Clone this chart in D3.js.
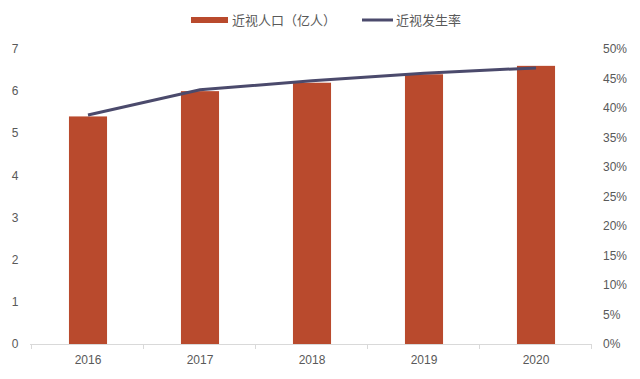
<!DOCTYPE html>
<html>
<head>
<meta charset="utf-8">
<script src="https://cdn.jsdelivr.net/npm/d3@7"></script>
<style>
  body { margin: 0; background: #fff; }
  text { font-family: "Liberation Sans", Arial, sans-serif; fill: #595959; }
  .legend text { font-family: "Noto Sans CJK SC", sans-serif; }
</style>
</head>
<body>
<svg id="chart" width="640" height="379"></svg>
<script>
var years = ['2016', '2017', '2018', '2019', '2020']
var population = [5.4, 6.0, 6.2, 6.4, 6.6]      // 近视人口（亿人）
var rate = [38.8, 43.1, 44.6, 45.9, 46.8]       // 近视发生率 %
var leftTicks = [0, 1, 2, 3, 4, 5, 6, 7]
var rightTicks = [0, 5, 10, 15, 20, 25, 30, 35, 40, 45, 50]

var barColor = '#b94a2d'
var lineColor = '#4b4a6c'

var svg = d3.select('#chart')

var x = d3.scaleBand().domain(years).range([32, 592]).paddingInner(0.66).paddingOuter(0.33)
var yL = d3.scaleLinear().domain([0, 7]).range([344, 49])
var yR = d3.scaleLinear().domain([0, 50]).range([344, 49])

// bars
svg.append('g').selectAll('rect')
  .data(years)
  .join('rect')
  .attr('x', d => x(d))
  .attr('width', x.bandwidth())
  .attr('y', (d, i) => yL(population[i]))
  .attr('height', (d, i) => yL(0) - yL(population[i]))
  .attr('fill', barColor)

// x axis
svg.append('line')
  .attr('x1', 30).attr('x2', 592)
  .attr('y1', yL(0) + 0.5).attr('y2', yL(0) + 0.5)
  .attr('stroke', '#d9d9d9')

var step = x.step()
var bounds = d3.range(years.length + 1).map(i => 32 + i * step)
svg.append('g').selectAll('line')
  .data(bounds)
  .join('line')
  .attr('x1', d => Math.round(d) - 0.5).attr('x2', d => Math.round(d) - 0.5)
  .attr('y1', yL(0)).attr('y2', yL(0) + 5)
  .attr('stroke', '#d9d9d9')

svg.append('g').selectAll('text')
  .data(years)
  .join('text')
  .attr('x', d => x(d) + x.bandwidth() / 2)
  .attr('y', 364)
  .attr('text-anchor', 'middle')
  .style('font-size', '12px')
  .text(d => d)

// left axis labels
svg.append('g').selectAll('text')
  .data(leftTicks)
  .join('text')
  .attr('x', 15)
  .attr('y', d => yL(d))
  .attr('dy', '0.35em')
  .attr('text-anchor', 'middle')
  .style('font-size', '12px')
  .text(d => d)

// right axis labels
svg.append('g').selectAll('text')
  .data(rightTicks)
  .join('text')
  .attr('x', 603)
  .attr('y', d => yR(d))
  .attr('dy', '0.35em')
  .style('font-size', '12px')
  .text(d => d + '%')

// line
var line = d3.line()
  .x((d, i) => x(years[i]) + x.bandwidth() / 2)
  .y(d => yR(d))

svg.append('path')
  .datum(rate)
  .attr('d', line)
  .attr('fill', 'none')
  .attr('stroke', lineColor)
  .attr('stroke-width', 3)

// legend
var lg = svg.append('g').attr('class', 'legend')
lg.append('rect').attr('x', 191).attr('y', 17).attr('width', 37).attr('height', 6).attr('fill', barColor)
lg.append('text').attr('x', 232).attr('y', 20).attr('dy', '0.35em').style('font-size', '13px').text('近视人口（亿人）')
lg.append('line').attr('x1', 362).attr('x2', 393).attr('y1', 20).attr('y2', 20)
  .attr('stroke', lineColor).attr('stroke-width', 3)
lg.append('text').attr('x', 396).attr('y', 20).attr('dy', '0.35em').style('font-size', '13px').text('近视发生率')
</script>
</body>
</html>
